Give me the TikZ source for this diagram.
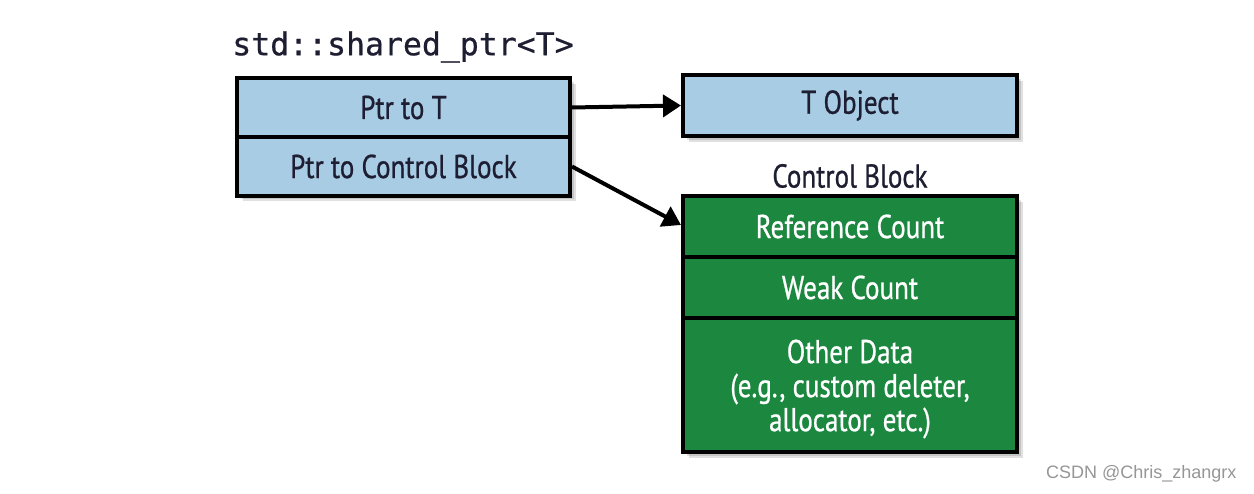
\documentclass[tikz,border=0pt]{standalone}
\usepackage{fontspec}
\setmainfont{PT Sans}[FakeStretch=0.82,FakeBold=0.7]
\newfontfamily\codefont{DejaVu Sans Mono}[FakeBold=0.6]
\newfontfamily\wmfont{Liberation Sans}
\usetikzlibrary{arrows.meta}
\definecolor{boxblue}{RGB}{168,204,228}
\definecolor{boxgreen}{RGB}{27,135,63}
\definecolor{navytext}{RGB}{30,30,50}
\definecolor{wmgray}{RGB}{150,150,150}
\tikzset{
  labelfont/.style={font=\fontsize{33}{34}\selectfont},
  cell/.style={draw=black, line width=4pt, minimum width=333pt, inner sep=0pt,
    align=center, labelfont},
  bluecell/.style={cell, fill=boxblue, text=navytext},
  greencell/.style={cell, fill=boxgreen, text=white},
  arr/.style={line width=4pt, -{Triangle[length=18pt,width=22pt]}},
  shadowbox/.style={fill=black, opacity=0.12, draw=none}
}
\begin{document}
\begin{tikzpicture}[x=1pt,y=-1pt]
\useasboundingbox[fill=white] (0,0) rectangle (1254,494);
% shadows
\foreach \d in {2,4,6}{
  \fill[shadowbox] (237+\d,78+\d) rectangle (570+\d,195+\d);
  \fill[shadowbox] (683+\d,75+\d) rectangle (1017+\d,136+\d);
  \fill[shadowbox] (683+\d,196+\d) rectangle (1017+\d,452+\d);
}
\node[font=\codefont\fontsize{31.5}{31}\selectfont, text=navytext] (title) at (403,47) {std::shared\_ptr<T>};
\node[bluecell, minimum height=59pt] (ptrT) at (403.5,107.5) {Ptr to T};
\node[bluecell, minimum height=59pt] (ptrCB) at (403.5,166.5) {Ptr to Control Block};
\node[bluecell, minimum width=334pt, minimum height=61pt] (tobj) at (850,105.5) {T Object};
\node[labelfont, text=navytext] (cblabel) at (850,176) {Control Block};
\node[greencell, minimum width=334pt, minimum height=61pt] (ref) at (850,226.5) {Reference Count};
\node[greencell, minimum width=334pt, minimum height=61pt] (weak) at (850,287.5) {Weak Count};
\node[greencell, minimum width=334pt, minimum height=134pt] (other) at (850,385) {};
\node[labelfont, text=white, align=center] (othertext) at (850,389) {Other Data\\(e.g., custom deleter,\\allocator, etc.)};
\draw[arr] (ptrT.east) -- (tobj.west);
\draw[arr] (ptrCB.east) -- (ref.north west |- 0,225);
\node[font=\wmfont\fontsize{18}{18}\selectfont, text=wmgray, anchor=east] (wm) at (1240,474) {CSDN @Chris\_zhangrx};
\end{tikzpicture}
\end{document}
